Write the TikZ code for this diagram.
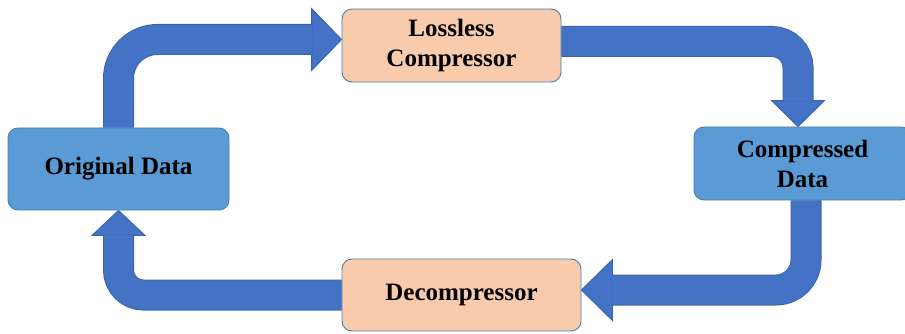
\documentclass[tikz,border=0pt]{standalone}
\usepackage{fontspec}
\setmainfont{Liberation Serif}
\usetikzlibrary{calc,backgrounds}

\definecolor{arrowfill}{HTML}{4472C4}
\definecolor{arrowline}{HTML}{3A62AC}
\definecolor{boxblue}{HTML}{5B9BD5}
\definecolor{boxpeach}{HTML}{F8CBAD}
\definecolor{boxline}{HTML}{4A7EAE}

\tikzset{
  stage/.style={draw=boxline, line width=0.9pt, rounded corners=10pt,
    font=\fontsize{25}{30}\selectfont\bfseries, align=center, inner sep=0pt},
  datastage/.style={stage, fill=boxblue},
  procstage/.style={stage, fill=boxpeach},
  arrowhd/.style={fill=arrowfill, draw=arrowline, line width=0.9pt, line join=miter},
}

% thick block-arrow shaft: outline stroke, then the body stroke on top
\newcommand\blockshaft[2]{%
  \draw[arrowline, line width=31pt, rounded corners=#1] #2;
  \draw[arrowfill, line width=29.2pt, rounded corners=#1] #2;}

\begin{document}
\begin{tikzpicture}[x=1pt, y=-1pt]
  \clip (0,0) rectangle (905,334);

  \node[datastage, minimum width=221pt, minimum height=82pt] (orig) at (118.5,169) {Original Data};
  \node[procstage, minimum width=219pt, minimum height=73pt] (lossless) at (451.5,45.5) {Lossless\\Compressor};
  \node[datastage, minimum width=217pt, minimum height=73pt] (comp) at (802.5,163.5) {Compressed\\Data};
  \node[procstage, minimum width=239pt, minimum height=72pt] (decomp) at (461.5,295) {Decompressor};

  \begin{scope}[on background layer]
    \fill[white] (0,0) rectangle (905,334);

    % Original Data -> Lossless Compressor
    \coordinate (t1) at ([yshift=6pt]lossless.west);
    \filldraw[arrowhd] (t1) -- ($(t1)+(-30,-31)$) -- ($(t1)+(-30,31)$) -- cycle;
    \blockshaft{39pt}{(orig.north) |- ($(t1)+(-29,0)$)}

    % Lossless Compressor -> Compressed Data
    \coordinate (t2) at ([xshift=-4.5pt]comp.north);
    \filldraw[arrowhd] (t2) -- ($(t2)+(-26.5,-26)$) -- ($(t2)+(26.5,-26)$) -- cycle;
    \blockshaft{26pt}{([yshift=4pt]lossless.east) -| ($(t2)+(0,-25)$)}

    % Compressed Data -> Decompressor
    \coordinate (t3) at ([yshift=5pt]decomp.east);
    \filldraw[arrowhd] (t3) -- ($(t3)+(31,-30.5)$) -- ($(t3)+(31,30.5)$) -- cycle;
    \blockshaft{30pt}{([xshift=3.5pt]comp.south) |- ($(t3)+(30,0)$)}

    % Decompressor -> Original Data
    \coordinate (t4) at (orig.south);
    \filldraw[arrowhd] (t4) -- ($(t4)+(-26.5,25)$) -- ($(t4)+(26.5,25)$) -- cycle;
    \blockshaft{25pt}{(decomp.west) -| ($(t4)+(0,24)$)}
  \end{scope}
\end{tikzpicture}
\end{document}
